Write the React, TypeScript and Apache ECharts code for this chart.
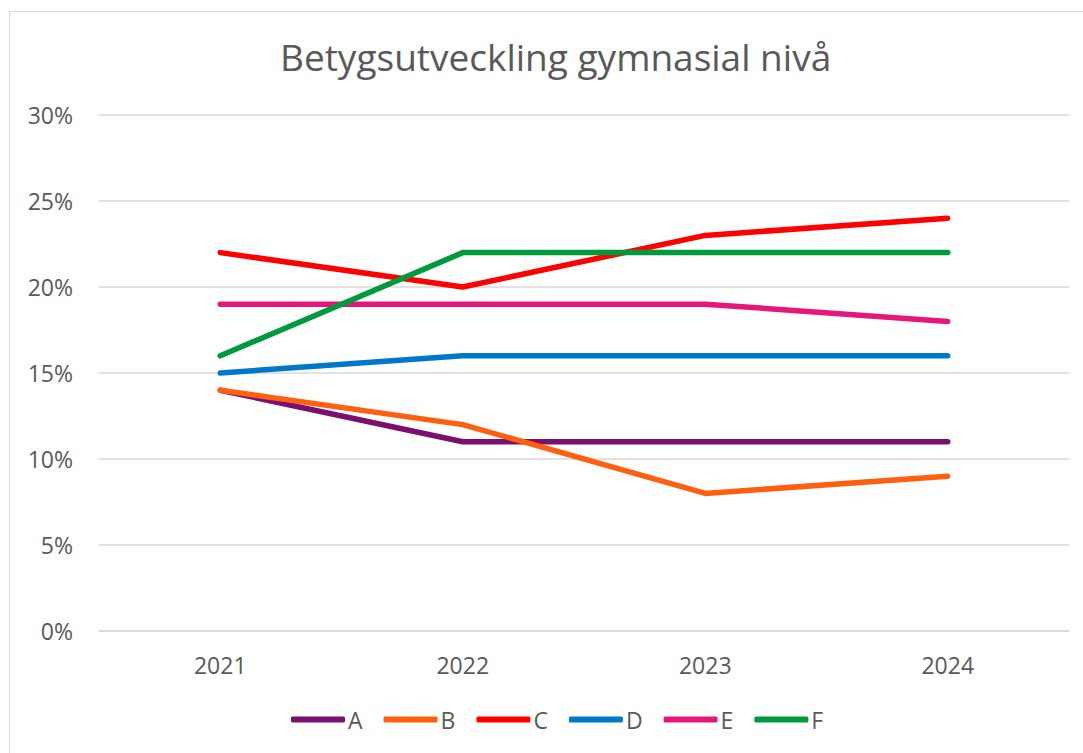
import React, { useEffect, useRef } from "react";
import * as echarts from "echarts";

const categories = ["2021", "2022", "2023", "2024"];
const seriesNames = ["A", "B", "C", "D", "E", "F"];
const valuesA = [14, 11, 11, 11];
const valuesB = [14, 12, 8, 9];
const valuesC = [22, 20, 23, 24];
const valuesD = [15, 16, 16, 16];
const valuesE = [19, 19, 19, 18];
const valuesF = [16, 22, 22, 22];
const seriesValues = [valuesA, valuesB, valuesC, valuesD, valuesE, valuesF];
const colors = ["#7A0F6F", "#FF6010", "#FF0000", "#0077C8", "#E5177B", "#009A3D"];

export default function App() {
  const ref = useRef<HTMLDivElement>(null);
  useEffect(() => {
    document.body.style.margin = "0";
    const chart = echarts.init(ref.current!, null, { renderer: "svg" });
    const font = "'Open Sans', 'Noto Sans', sans-serif";
    chart.setOption({
      animation: false,
      backgroundColor: "#ffffff",
      textStyle: { fontFamily: font },
      title: {
        text: "Betygsutveckling gymnasial nivå",
        left: 275,
        top: 33,
        textStyle: { fontFamily: font, fontSize: 37, fontWeight: "normal", color: "#595959" },
      },
      graphic: [
        {
          type: "rect",
          shape: { x: 9.5, y: 11.5, width: 1100, height: 800 },
          style: { fill: "none", stroke: "#d9d9d9", lineWidth: 1 },
          silent: true,
        },
      ],
      legend: {
        bottom: 17,
        left: 286,
        icon: "roundRect",
        itemWidth: 54,
        itemHeight: 6,
        itemGap: 21,
        textStyle: { fontFamily: font, fontSize: 23, color: "#595959", padding: [0, 0, 0, -2] },
        data: seriesNames,
      },
      grid: { left: 99, right: 14, top: 115, bottom: 122, containLabel: false },
      xAxis: {
        type: "category",
        data: categories,
        boundaryGap: true,
        axisLine: { show: true, lineStyle: { color: "#d9d9d9", width: 1.5 } },
        axisTick: { show: false },
        axisLabel: { fontFamily: font, fontSize: 23, color: "#595959", margin: 22 },
      },
      yAxis: {
        type: "value",
        min: 0,
        max: 30,
        interval: 5,
        axisLine: { show: false },
        axisTick: { show: false },
        splitLine: { lineStyle: { color: "#d9d9d9", width: 1.5 } },
        axisLabel: { fontFamily: font, fontSize: 23, color: "#595959", margin: 26, formatter: "{value}%" },
      },
      series: seriesNames.map((n, i) => ({
        name: n,
        type: "line",
        data: seriesValues[i],
        showSymbol: false,
        symbol: "none",
        lineStyle: { width: 5.5, color: colors[i], cap: "round", join: "round" },
        itemStyle: { color: colors[i] },
      })),
    });
    return () => chart.dispose();
  }, []);
  return <div ref={ref} style={{ width: 1083, height: 753 }} />;
}
